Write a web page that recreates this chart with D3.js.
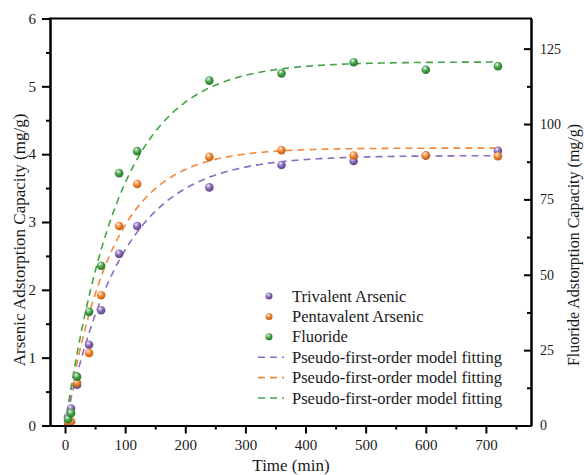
<!DOCTYPE html>
<html><head><meta charset="utf-8">
<script src="https://cdn.jsdelivr.net/npm/d3@7"></script>
<style>
body{margin:0;background:#fff}
text{font-family:"Liberation Serif","Times New Roman",serif;fill:#1a1a1a}
</style>
</head><body><svg id="chart" width="584" height="475"></svg>
<script>
// Sampling times (min)
const times = [5, 10, 20, 40, 60, 90, 120, 240, 360, 480, 600, 720];
// Measured adsorption capacities
const trivalent   = [0.13, 0.25, 0.60, 1.19, 1.70, 2.53, 2.94, 3.51, 3.84, 3.90, 3.98, 4.05]; // mg/g, left axis
const pentavalent = [0.05, 0.06, 0.63, 1.07, 1.92, 2.94, 3.56, 3.96, 4.06, 3.98, 3.98, 3.97]; // mg/g, left axis
const fluoride    = [2.1, 4.1, 16.2, 37.7, 53.0, 83.7, 91.0, 114.4, 116.8, 120.5, 118.0, 119.2]; // mg/g, right axis
// Pseudo-first-order fit parameters q(t) = qe * (1 - exp(-k t))
const fitQe = [3.98, 4.09, 120.6];
const fitK  = [0.0105, 0.0128, 0.0110];
// Axis ticks
const xTicks = [0, 100, 200, 300, 400, 500, 600, 700];
const xMinor = [50, 150, 250, 350, 450, 550, 650, 750];
const yLeftTicks = [0, 1, 2, 3, 4, 5, 6];
const yLeftMinor = [0.5, 1.5, 2.5, 3.5, 4.5, 5.5];
const yRightTicks = [0, 25, 50, 75, 100, 125];
const yRightMinor = [12.5, 37.5, 62.5, 87.5, 112.5];
const legendLabels = ["Trivalent Arsenic", "Pentavalent Arsenic", "Fluoride",
  "Pseudo-first-order model fitting", "Pseudo-first-order model fitting", "Pseudo-first-order model fitting"];

const markColors = ["#7d5cae", "#ef7a22", "#3a9a3e"];
const lineColors = ["#8b6cc2", "#f3873a", "#43a347"];
const FONT = '"Liberation Serif","Times New Roman",serif';

const svg = d3.select("#chart");
const L = 50, R = 531, T = 18.5, B = 425.5;

const x = d3.scaleLinear().domain([-25, 775]).range([L, R]);
const yL = d3.scaleLinear().domain([0, 6]).range([B, T]);
const yR = d3.scaleLinear().domain([0, 135]).range([B, T]);

// Sphere-like shading for markers
const defs = svg.append("defs");
markColors.forEach((c, i) => {
  const g = defs.append("radialGradient").attr("id", "ball" + i)
    .attr("cx", "40%").attr("cy", "35%").attr("r", "65%").attr("fx", "38%").attr("fy", "30%");
  g.append("stop").attr("offset", "0%").attr("stop-color", "#ffffff");
  g.append("stop").attr("offset", "25%").attr("stop-color", d3.interpolateRgb("#fff", c)(0.55));
  g.append("stop").attr("offset", "60%").attr("stop-color", c);
  g.append("stop").attr("offset", "100%").attr("stop-color", d3.color(c).darker(0.7));
});

// Fitted curves
const tGrid = d3.range(0, 722, 2);
const yScales = [yL, yL, yR];
const line = d3.line();
fitQe.forEach((qe, i) => {
  const pts = tGrid.map(t => [x(t), yScales[i](qe * (1 - Math.exp(-fitK[i] * t)))]);
  svg.append("path").attr("d", line(pts)).attr("fill", "none")
    .attr("stroke", lineColors[i]).attr("stroke-width", 1.6)
    .attr("stroke-dasharray", "7,5");
});

// Data points
const series = [trivalent, pentavalent, fluoride];
series.forEach((vals, i) => {
  svg.append("g").selectAll("circle").data(vals).join("circle")
    .attr("cx", (d, j) => x(times[j]))
    .attr("cy", d => yScales[i](d))
    .attr("r", 4.3)
    .attr("fill", `url(#ball${i})`);
});

// Axes
const axisStyle = g => {
  g.attr("font-family", FONT);
  g.selectAll("path.domain").attr("stroke", "#000").attr("stroke-width", 2);
  g.selectAll(".tick line").attr("stroke", "#000").attr("stroke-width", 2);
  g.selectAll(".tick text").style("font-family", FONT).attr("fill", "#1a1a1a");
};
const fmt = d3.format("d");

svg.append("g").attr("transform", `translate(0,${B})`)
  .call(d3.axisBottom(x).tickValues(xMinor).tickSize(4).tickFormat("").tickSizeOuter(0))
  .call(axisStyle);
svg.append("g").attr("transform", `translate(0,${B})`)
  .call(d3.axisBottom(x).tickValues(xTicks).tickFormat(fmt).tickSize(8).tickSizeOuter(0).tickPadding(6))
  .call(axisStyle).call(g => g.selectAll(".tick text").attr("font-size", 15));

svg.append("g").attr("transform", `translate(${L},0)`)
  .call(d3.axisLeft(yL).tickValues(yLeftMinor).tickSize(4).tickFormat("").tickSizeOuter(0))
  .call(axisStyle);
svg.append("g").attr("transform", `translate(${L},0)`)
  .call(d3.axisLeft(yL).tickValues(yLeftTicks).tickFormat(fmt).tickSize(8).tickSizeOuter(0).tickPadding(6))
  .call(axisStyle).call(g => g.selectAll(".tick text").attr("font-size", 15));

svg.append("g").attr("transform", `translate(${R},0)`)
  .call(d3.axisRight(yR).tickValues(yRightMinor).tickSizeInner(-4).tickSizeOuter(0).tickFormat(""))
  .call(axisStyle);
svg.append("g").attr("transform", `translate(${R},0)`)
  .call(d3.axisRight(yR).tickValues(yRightTicks).tickFormat(fmt).tickSizeInner(-7).tickSizeOuter(0).tickPadding(9))
  .call(axisStyle).call(g => g.selectAll(".tick text").attr("font-size", 14));

// Top border
svg.append("line").attr("x1", L - 1).attr("x2", R + 1).attr("y1", T).attr("y2", T)
  .attr("stroke", "#000").attr("stroke-width", 2);

// Axis titles
svg.append("text").attr("x", 291).attr("y", 471).attr("text-anchor", "middle")
  .attr("font-family", FONT).attr("font-size", 17).text("Time (min)");
svg.append("text").attr("transform", "translate(19,240) rotate(-90)")
  .attr("text-anchor", "middle").attr("dominant-baseline", "central")
  .attr("font-family", FONT).attr("font-size", 17).text("Arsenic Adstorption Capacity (mg/g)");
svg.append("text").attr("transform", "translate(573,245) rotate(-90)")
  .attr("text-anchor", "middle").attr("dominant-baseline", "central")
  .attr("font-family", FONT).attr("font-size", 16).text("Fluoride Adstorption Capacity (mg/g)");

// Legend
const lg = svg.append("g");
const rowY = i => 296 + i * 20.4;
legendLabels.forEach((lab, i) => {
  const yy = rowY(i);
  if (i < 3) {
    lg.append("circle").attr("cx", 269).attr("cy", yy).attr("r", 3.5).attr("fill", `url(#ball${i})`);
  } else {
    lg.append("line").attr("x1", 258).attr("x2", 284).attr("y1", yy).attr("y2", yy)
      .attr("stroke", lineColors[i - 3]).attr("stroke-width", 1.6).attr("stroke-dasharray", "7,5");
  }
  lg.append("text").attr("x", 292).attr("y", yy).attr("dominant-baseline", "central")
    .attr("font-family", FONT).attr("font-size", 16.5).text(lab);
});
</script>
</body></html>
